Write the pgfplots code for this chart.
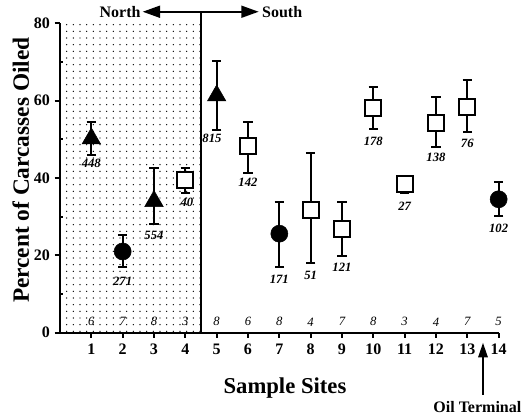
\documentclass[border=0pt]{standalone}
\usepackage{fontspec}
\setmainfont{Liberation Serif}
\usepackage{pgfplots}
\pgfplotsset{compat=1.18}
\usetikzlibrary{patterns.meta,arrows.meta}

\newcommand{\nlab}{\bfseries\itshape\fontsize{9.5}{9.5}\selectfont}
\newcommand{\clab}{\itshape\fontsize{9.5}{9.5}\selectfont}

\begin{document}
\begin{tikzpicture}
  \useasboundingbox (-45pt,-64pt) rectangle (349.5pt,249.5pt);
  \begin{axis}[
      scale only axis, width=329pt, height=232pt,
      xmin=0, xmax=14, ymin=0, ymax=80,
      axis x line=bottom, axis y line=left,
      axis line style={-, line width=1.6pt},
      clip=false,
      xtick={1,...,14}, ytick={0,20,40,60,80},
      extra y ticks={10,30,50,70}, extra y tick labels={},
      extra y tick style={tick align=inside, major tick length=2.5pt},
      tick align=outside, major tick length=4pt,
      tick style={line width=1.6pt, black},
      /pgf/number format/assume math mode=true,
      ticklabel style={font=\bfseries\fontsize{12}{12}\selectfont},
      xticklabel style={yshift=-1pt},
      error bars/error bar style={line width=1.5pt},
      error bars/error mark options={rotate=90, mark size=3.6pt, line width=1.5pt},
    ]
    % shaded northern sites
    \fill[pattern={Dots[distance=5pt, radius=0.55pt]}, pattern color=black]
      (axis cs:0,0) rectangle (axis cs:4.5,80);
    \draw[line width=0.8pt] (axis cs:4.5,0) -- (axis cs:4.5,83);
    \draw[line width=1.3pt, {Triangle[length=13pt,width=9pt]}-{Triangle[length=13pt,width=9pt]}]
      (axis cs:2.64,83) -- (axis cs:6.34,83);
    \node[anchor=east, font=\bfseries\fontsize{12}{12}\selectfont, inner sep=1pt] at (axis cs:2.62,82.9) {North};
    \node[anchor=west, font=\bfseries\fontsize{12}{12}\selectfont, inner sep=1pt] at (axis cs:6.4,82.9) {South};

    % triangles
    \addplot[only marks, mark=triangle*, mark size=8pt, black,
      error bars/.cd, y dir=both, y explicit]
      coordinates {
        (1,50.2) += (0,4.2) -= (0,4.2)
        (3,34.0) += (0,8.5) -= (0,6.0)
        (5,61.3) += (0,9.0) -= (0,8.9)
      };
    % circles
    \addplot[only marks, mark=*, mark size=6.4pt, black,
      error bars/.cd, y dir=both, y explicit]
      coordinates {
        (2,21.0) += (0,4.2) -= (0,4.1)
        (7,25.6) += (0,8.2) -= (0,8.5)
        (14,34.5) += (0,4.5) -= (0,4.4)
      };
    % squares
    \addplot[only marks, mark=square*, mark size=6pt, black,
      mark options={fill=white, line width=1.3pt},
      error bars/.cd, y dir=both, y explicit]
      coordinates {
        (4,39.4) += (0,3.3) -= (0,3.2)
        (6,48.2) += (0,6.2) -= (0,7.0)
        (8,31.8) += (0,14.6) -= (0,13.8)
        (9,26.9) += (0,6.9) -= (0,7.0)
        (10,58.1) += (0,5.5) -= (0,5.5)
        (11,38.4) += (0,2.1) -= (0,2.2)
        (12,54.2) += (0,6.7) -= (0,6.3)
        (13,58.3) += (0,7.1) -= (0,6.5)
      };

    % sample sizes
    \node[font=\nlab] at (axis cs:1,43.8) {448};
    \node[font=\nlab] at (axis cs:2,13.3) {271};
    \node[font=\nlab] at (axis cs:3,25.2) {554};
    \node[font=\nlab] at (axis cs:4.05,33.7) {40};
    \node[font=\nlab] at (axis cs:4.85,50.3) {815};
    \node[font=\nlab] at (axis cs:6,38.9) {142};
    \node[font=\nlab] at (axis cs:7,13.7) {171};
    \node[font=\nlab] at (axis cs:8,14.7) {51};
    \node[font=\nlab] at (axis cs:9,16.8) {121};
    \node[font=\nlab] at (axis cs:10,49.6) {178};
    \node[font=\nlab] at (axis cs:11,32.7) {27};
    \node[font=\nlab] at (axis cs:12,45.3) {138};
    \node[font=\nlab] at (axis cs:13,49.0) {76};
    \node[font=\nlab] at (axis cs:14,27.0) {102};

    % number of sites
    \node[font=\clab] at (axis cs:1,2.8) {6};
    \node[font=\clab] at (axis cs:2,2.8) {7};
    \node[font=\clab] at (axis cs:3,2.8) {8};
    \node[font=\clab] at (axis cs:4,2.8) {3};
    \node[font=\clab] at (axis cs:5,2.8) {8};
    \node[font=\clab] at (axis cs:6,2.8) {6};
    \node[font=\clab] at (axis cs:7,2.8) {8};
    \node[font=\clab] at (axis cs:8,2.8) {4};
    \node[font=\clab] at (axis cs:9,2.8) {7};
    \node[font=\clab] at (axis cs:10,2.8) {8};
    \node[font=\clab] at (axis cs:11,2.8) {3};
    \node[font=\clab] at (axis cs:12,2.8) {4};
    \node[font=\clab] at (axis cs:13,2.8) {7};
    \node[font=\clab] at (axis cs:14,2.8) {5};

    % axis titles
    \node[font=\bfseries\fontsize{17}{17}\selectfont] at (axis cs:7.18,-14.4) {Sample Sites};
    \node[font=\bfseries\fontsize{17.5}{17.5}\selectfont, rotate=90] at (axis cs:-1.25,42) {Percent of Carcasses Oiled};

    % oil terminal
    \draw[line width=1.6pt, -{Triangle[length=11pt,width=7pt]}] (axis cs:13.5,-16.0) -- (axis cs:13.5,-2.6);
    \node[font=\bfseries\fontsize{12}{12}\selectfont] at (axis cs:13.32,-19.2) {Oil Terminal};
  \end{axis}
\end{tikzpicture}
\end{document}
